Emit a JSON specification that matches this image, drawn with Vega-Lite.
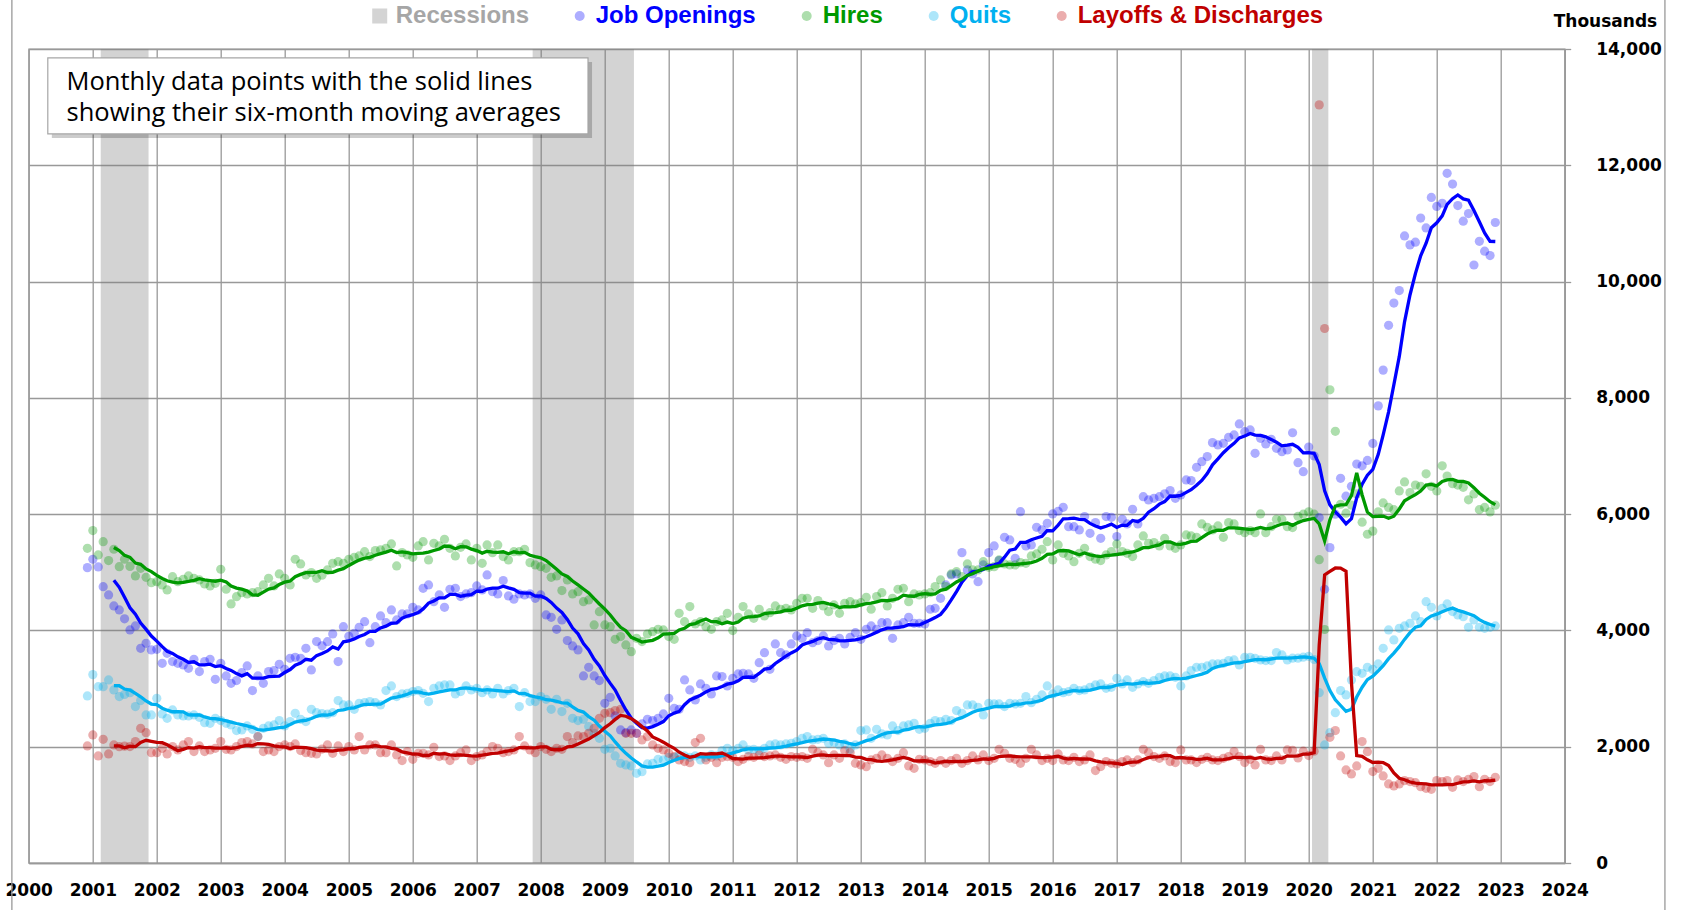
{
"$schema":"https://vega.github.io/schema/vega-lite/v6.json",
"width":1536,"height":814,
"autosize":{"type":"none"},
"padding":{"left":28.7,"top":49,"right":116.3,"bottom":47},
"background":"white",
"data":{"values":[
{"d":"2000-12","o":5080,"h":5413,"q":2873,"l":2013},
{"d":"2001-01","o":5224,"h":5717,"q":3240,"l":2202},{"d":"2001-02","o":5092,"h":5298,"q":3033,"l":1841},{"d":"2001-03","o":4753,"h":5527,"q":3033,"l":2128},{"d":"2001-04","o":4610,"h":5201,"q":3148,"l":1876},{"d":"2001-05","o":4421,"h":5396,"q":2976,"l":2030},{"d":"2001-06","o":4352,"h":5097,"q":2862,"l":2000},{"d":"2001-07","o":4200,"h":5224,"q":2900,"l":2010},{"d":"2001-08","o":4008,"h":5100,"q":2930,"l":2002},{"d":"2001-09","o":4077,"h":4937,"q":2690,"l":2088},{"d":"2001-10","o":3693,"h":5069,"q":2793,"l":2317},{"d":"2001-11","o":3779,"h":4914,"q":2546,"l":2242},{"d":"2001-12","o":3664,"h":4822,"q":2546,"l":1898},
{"d":"2002-01","o":3676,"h":4839,"q":2833,"l":1898},{"d":"2002-02","o":3435,"h":4782,"q":2563,"l":1973},{"d":"2002-03","o":3607,"h":4696,"q":2489,"l":1876},{"d":"2002-04","o":3464,"h":4925,"q":2632,"l":2002},{"d":"2002-05","o":3435,"h":4839,"q":2546,"l":1944},{"d":"2002-06","o":3406,"h":4880,"q":2529,"l":2030},{"d":"2002-07","o":3349,"h":4937,"q":2529,"l":2088},{"d":"2002-08","o":3504,"h":4897,"q":2546,"l":1916},{"d":"2002-09","o":3292,"h":4868,"q":2506,"l":2013},{"d":"2002-10","o":3464,"h":4799,"q":2414,"l":1916},{"d":"2002-11","o":3504,"h":4765,"q":2403,"l":1944},{"d":"2002-12","o":3160,"h":4811,"q":2489,"l":1973},
{"d":"2003-01","o":3435,"h":5052,"q":2449,"l":2088},{"d":"2003-02","o":3217,"h":4708,"q":2403,"l":1956},{"d":"2003-03","o":3091,"h":4455,"q":2374,"l":1944},{"d":"2003-04","o":3137,"h":4581,"q":2277,"l":2002},{"d":"2003-05","o":3274,"h":4650,"q":2288,"l":2071},{"d":"2003-06","o":3389,"h":4627,"q":2357,"l":2088},{"d":"2003-07","o":2965,"h":4650,"q":2300,"l":2048},{"d":"2003-08","o":3217,"h":4667,"q":2174,"l":2174},{"d":"2003-09","o":3091,"h":4782,"q":2317,"l":1916},{"d":"2003-10","o":3292,"h":4897,"q":2357,"l":1944},{"d":"2003-11","o":3309,"h":4765,"q":2374,"l":1916},{"d":"2003-12","o":3418,"h":4971,"q":2449,"l":2002},
{"d":"2004-01","o":3332,"h":4897,"q":2357,"l":2030},{"d":"2004-02","o":3521,"h":4782,"q":2432,"l":2002},{"d":"2004-03","o":3538,"h":5224,"q":2575,"l":2048},{"d":"2004-04","o":3521,"h":5143,"q":2472,"l":1933},{"d":"2004-05","o":3693,"h":4954,"q":2432,"l":1898},{"d":"2004-06","o":3320,"h":4994,"q":2644,"l":1887},{"d":"2004-07","o":3808,"h":4897,"q":2586,"l":1876},{"d":"2004-08","o":3735,"h":4950,"q":2570,"l":1960},{"d":"2004-09","o":3807,"h":5040,"q":2560,"l":2030},{"d":"2004-10","o":3939,"h":5155,"q":2586,"l":1887},{"d":"2004-11","o":3464,"h":5183,"q":2793,"l":2013},{"d":"2004-12","o":4065,"h":5155,"q":2718,"l":1916},
{"d":"2005-01","o":3900,"h":5224,"q":2718,"l":2002},{"d":"2005-02","o":3951,"h":5258,"q":2644,"l":1944},{"d":"2005-03","o":4054,"h":5281,"q":2747,"l":2174},{"d":"2005-04","o":4151,"h":5355,"q":2758,"l":1944},{"d":"2005-05","o":3790,"h":5270,"q":2776,"l":2030},{"d":"2005-06","o":4065,"h":5373,"q":2758,"l":2030},{"d":"2005-07","o":4249,"h":5384,"q":2718,"l":1898},{"d":"2005-08","o":4134,"h":5413,"q":2965,"l":1898},{"d":"2005-09","o":4352,"h":5487,"q":3045,"l":2030},{"d":"2005-10","o":4180,"h":5109,"q":2862,"l":1858},{"d":"2005-11","o":4283,"h":5338,"q":2907,"l":1761},{"d":"2005-12","o":4283,"h":5298,"q":2919,"l":1916},
{"d":"2006-01","o":4398,"h":5258,"q":2948,"l":1784},{"d":"2006-02","o":4352,"h":5453,"q":2965,"l":1887},{"d":"2006-03","o":4725,"h":5527,"q":2919,"l":1887},{"d":"2006-04","o":4782,"h":5212,"q":2776,"l":1858},{"d":"2006-05","o":4495,"h":5499,"q":3005,"l":1990},{"d":"2006-06","o":4610,"h":5453,"q":3045,"l":1830},{"d":"2006-07","o":4398,"h":5568,"q":3062,"l":1841},{"d":"2006-08","o":4708,"h":5413,"q":3062,"l":1761},{"d":"2006-09","o":4725,"h":5281,"q":2907,"l":1841},{"d":"2006-10","o":4582,"h":5430,"q":2948,"l":1898},{"d":"2006-11","o":4627,"h":5487,"q":3045,"l":1944},{"d":"2006-12","o":4650,"h":5212,"q":2976,"l":1761},
{"d":"2007-01","o":4765,"h":5413,"q":3005,"l":1830},{"d":"2007-02","o":4696,"h":5155,"q":2930,"l":1858},{"d":"2007-03","o":4954,"h":5470,"q":2976,"l":1916},{"d":"2007-04","o":4667,"h":5338,"q":2907,"l":2002},{"d":"2007-05","o":4627,"h":5470,"q":3005,"l":1973},{"d":"2007-06","o":4857,"h":5270,"q":2907,"l":1898},{"d":"2007-07","o":4593,"h":5212,"q":2965,"l":1916},{"d":"2007-08","o":4536,"h":5355,"q":3005,"l":1944},{"d":"2007-09","o":4627,"h":5355,"q":2690,"l":2174},{"d":"2007-10","o":4610,"h":5396,"q":2930,"l":2013},{"d":"2007-11","o":4627,"h":5166,"q":2776,"l":1944},{"d":"2007-12","o":4553,"h":5126,"q":2776,"l":1898},
{"d":"2008-01","o":4610,"h":5097,"q":2862,"l":2002},{"d":"2008-02","o":4266,"h":5069,"q":2816,"l":1956},{"d":"2008-03","o":4226,"h":4914,"q":2644,"l":1916},{"d":"2008-04","o":4020,"h":4937,"q":2816,"l":1973},{"d":"2008-05","o":4180,"h":4685,"q":2604,"l":1956},{"d":"2008-06","o":3825,"h":4868,"q":2747,"l":2174},{"d":"2008-07","o":3733,"h":4627,"q":2489,"l":2071},{"d":"2008-08","o":3664,"h":4667,"q":2449,"l":2185},{"d":"2008-09","o":3217,"h":4495,"q":2472,"l":2174},{"d":"2008-10","o":3366,"h":4524,"q":2346,"l":2231},{"d":"2008-11","o":3217,"h":4094,"q":2231,"l":2317},{"d":"2008-12","o":3137,"h":4323,"q":2145,"l":2489},
{"d":"2009-01","o":2747,"h":4094,"q":1956,"l":2575},{"d":"2009-02","o":2850,"h":4065,"q":1973,"l":2586},{"d":"2009-03","o":2529,"h":3848,"q":1841,"l":2621},{"d":"2009-04","o":2288,"h":3894,"q":1715,"l":2644},{"d":"2009-05","o":2242,"h":3750,"q":1686,"l":2231},{"d":"2009-06","o":2288,"h":3635,"q":1669,"l":2231},{"d":"2009-07","o":2231,"h":3865,"q":1543,"l":2231},{"d":"2009-08","o":2391,"h":3808,"q":1571,"l":2116},{"d":"2009-09","o":2472,"h":3939,"q":1703,"l":2174},{"d":"2009-10","o":2449,"h":3979,"q":1715,"l":2030},{"d":"2009-11","o":2489,"h":4020,"q":1784,"l":1973},{"d":"2009-12","o":2563,"h":4008,"q":1772,"l":1944},
{"d":"2010-01","o":2833,"h":3894,"q":1818,"l":1887},{"d":"2010-02","o":2661,"h":3848,"q":1818,"l":1830},{"d":"2010-03","o":2644,"h":4295,"q":1858,"l":1772},{"d":"2010-04","o":3148,"h":4151,"q":1841,"l":1744},{"d":"2010-05","o":2976,"h":4410,"q":1818,"l":1726},{"d":"2010-06","o":2804,"h":4111,"q":1841,"l":2071},{"d":"2010-07","o":3079,"h":4151,"q":1772,"l":2145},{"d":"2010-08","o":3005,"h":4065,"q":1818,"l":1772},{"d":"2010-09","o":2907,"h":4020,"q":1858,"l":1818},{"d":"2010-10","o":3217,"h":4151,"q":1841,"l":1726},{"d":"2010-11","o":3206,"h":4180,"q":1933,"l":1818},{"d":"2010-12","o":3045,"h":4295,"q":1973,"l":1830},
{"d":"2011-01","o":3177,"h":3997,"q":1933,"l":1818},{"d":"2011-02","o":3251,"h":4226,"q":1973,"l":1744},{"d":"2011-03","o":3263,"h":4410,"q":2030,"l":1784},{"d":"2011-04","o":3251,"h":4283,"q":1944,"l":1830},{"d":"2011-05","o":3177,"h":4209,"q":1956,"l":1818},{"d":"2011-06","o":3446,"h":4364,"q":1933,"l":1858},{"d":"2011-07","o":3618,"h":4249,"q":1973,"l":1830},{"d":"2011-08","o":3332,"h":4306,"q":2030,"l":1841},{"d":"2011-09","o":3767,"h":4421,"q":2048,"l":1858},{"d":"2011-10","o":3618,"h":4364,"q":2030,"l":1818},{"d":"2011-11","o":3578,"h":4381,"q":2048,"l":1784},{"d":"2011-12","o":3767,"h":4352,"q":2059,"l":1830},
{"d":"2012-01","o":3905,"h":4467,"q":2088,"l":1818},{"d":"2012-02","o":3865,"h":4553,"q":2145,"l":1830},{"d":"2012-03","o":3962,"h":4553,"q":2174,"l":1801},{"d":"2012-04","o":3790,"h":4381,"q":2116,"l":1956},{"d":"2012-05","o":3825,"h":4513,"q":2128,"l":1898},{"d":"2012-06","o":3905,"h":4421,"q":2145,"l":1858},{"d":"2012-07","o":3733,"h":4324,"q":2059,"l":1726},{"d":"2012-08","o":3825,"h":4438,"q":2071,"l":1858},{"d":"2012-09","o":3865,"h":4295,"q":2030,"l":1801},{"d":"2012-10","o":3768,"h":4467,"q":2048,"l":1933},{"d":"2012-11","o":3882,"h":4495,"q":1956,"l":1898},{"d":"2012-12","o":3962,"h":4455,"q":2030,"l":1715},
{"d":"2013-01","o":3848,"h":4478,"q":2277,"l":1686},{"d":"2013-02","o":4020,"h":4570,"q":2288,"l":1657},{"d":"2013-03","o":4077,"h":4364,"q":2145,"l":1772},{"d":"2013-04","o":4020,"h":4582,"q":2300,"l":1801},{"d":"2013-05","o":4134,"h":4650,"q":2220,"l":1858},{"d":"2013-06","o":4134,"h":4421,"q":2202,"l":1801},{"d":"2013-07","o":3865,"h":4553,"q":2357,"l":1744},{"d":"2013-08","o":4094,"h":4708,"q":2277,"l":1801},{"d":"2013-09","o":4134,"h":4725,"q":2357,"l":1898},{"d":"2013-10","o":4226,"h":4495,"q":2374,"l":1669},{"d":"2013-11","o":4123,"h":4627,"q":2403,"l":1629},{"d":"2013-12","o":4123,"h":4610,"q":2300,"l":1784},
{"d":"2014-01","o":4111,"h":4627,"q":2317,"l":1772},{"d":"2014-02","o":4364,"h":4650,"q":2403,"l":1744},{"d":"2014-03","o":4381,"h":4754,"q":2449,"l":1715},{"d":"2014-04","o":4553,"h":4868,"q":2432,"l":1761},{"d":"2014-05","o":4782,"h":4754,"q":2472,"l":1715},{"d":"2014-06","o":4954,"h":4971,"q":2449,"l":1761},{"d":"2014-07","o":4971,"h":5011,"q":2621,"l":1801},{"d":"2014-08","o":5338,"h":4925,"q":2575,"l":1715},{"d":"2014-09","o":5040,"h":5143,"q":2718,"l":1761},{"d":"2014-10","o":4971,"h":5040,"q":2718,"l":1841},{"d":"2014-11","o":4839,"h":5040,"q":2678,"l":1772},{"d":"2014-12","o":5126,"h":5183,"q":2546,"l":1858},
{"d":"2015-01","o":5338,"h":5086,"q":2747,"l":1761},{"d":"2015-02","o":5453,"h":5097,"q":2735,"l":1801},{"d":"2015-03","o":5201,"h":5212,"q":2735,"l":1956},{"d":"2015-04","o":5602,"h":5143,"q":2690,"l":1887},{"d":"2015-05","o":5556,"h":5126,"q":2747,"l":1801},{"d":"2015-06","o":5241,"h":5126,"q":2735,"l":1784},{"d":"2015-07","o":6043,"h":5166,"q":2747,"l":1715},{"d":"2015-08","o":5453,"h":5155,"q":2862,"l":1801},{"d":"2015-09","o":5470,"h":5281,"q":2758,"l":1956},{"d":"2015-10","o":5774,"h":5316,"q":2816,"l":1858},{"d":"2015-11","o":5728,"h":5396,"q":2890,"l":1761},{"d":"2015-12","o":5843,"h":5527,"q":3045,"l":1801},
{"d":"2016-01","o":6003,"h":5212,"q":2907,"l":1761},{"d":"2016-02","o":6050,"h":5470,"q":2976,"l":1876},{"d":"2016-03","o":6118,"h":5327,"q":2930,"l":1772},{"d":"2016-04","o":5785,"h":5281,"q":2948,"l":1761},{"d":"2016-05","o":5785,"h":5183,"q":3005,"l":1818},{"d":"2016-06","o":5728,"h":5327,"q":2965,"l":1744},{"d":"2016-07","o":5958,"h":5413,"q":2976,"l":1772},{"d":"2016-08","o":5671,"h":5270,"q":3022,"l":1858},{"d":"2016-09","o":5854,"h":5224,"q":3062,"l":1589},{"d":"2016-10","o":5585,"h":5201,"q":3079,"l":1658},{"d":"2016-11","o":5958,"h":5298,"q":3005,"l":1744},{"d":"2016-12","o":5946,"h":5356,"q":3022,"l":1715},
{"d":"2017-01","o":5614,"h":5487,"q":3177,"l":1704},{"d":"2017-02","o":5912,"h":5356,"q":3079,"l":1744},{"d":"2017-03","o":5831,"h":5327,"q":3148,"l":1772},{"d":"2017-04","o":6084,"h":5270,"q":3022,"l":1727},{"d":"2017-05","o":5831,"h":5470,"q":3079,"l":1772},{"d":"2017-06","o":6301,"h":5625,"q":3119,"l":1956},{"d":"2017-07","o":6244,"h":5499,"q":3091,"l":1898},{"d":"2017-08","o":6273,"h":5510,"q":3137,"l":1830},{"d":"2017-09","o":6301,"h":5453,"q":3194,"l":1801},{"d":"2017-10","o":6350,"h":5585,"q":3217,"l":1841},{"d":"2017-11","o":6405,"h":5453,"q":3217,"l":1744},{"d":"2017-12","o":6273,"h":5413,"q":3194,"l":1727},
{"d":"2018-01","o":6330,"h":5470,"q":3045,"l":1944},{"d":"2018-02","o":6588,"h":5642,"q":3217,"l":1772},{"d":"2018-03","o":6577,"h":5625,"q":3309,"l":1772},{"d":"2018-04","o":6806,"h":5602,"q":3366,"l":1727},{"d":"2018-05","o":6903,"h":5831,"q":3366,"l":1784},{"d":"2018-06","o":6990,"h":5774,"q":3389,"l":1818},{"d":"2018-07","o":7230,"h":5728,"q":3424,"l":1772},{"d":"2018-08","o":7190,"h":5797,"q":3424,"l":1761},{"d":"2018-09","o":7219,"h":5602,"q":3435,"l":1801},{"d":"2018-10","o":7322,"h":5854,"q":3481,"l":1830},{"d":"2018-11","o":7362,"h":5831,"q":3492,"l":1916},{"d":"2018-12","o":7551,"h":5717,"q":3407,"l":1830},
{"d":"2019-01","o":7419,"h":5682,"q":3538,"l":1727},{"d":"2019-02","o":7448,"h":5717,"q":3538,"l":1784},{"d":"2019-03","o":7047,"h":5682,"q":3521,"l":1686},{"d":"2019-04","o":7305,"h":6003,"q":3492,"l":1956},{"d":"2019-05","o":7207,"h":5682,"q":3481,"l":1772},{"d":"2019-06","o":7287,"h":5785,"q":3481,"l":1761},{"d":"2019-07","o":7133,"h":5912,"q":3619,"l":1841},{"d":"2019-08","o":7075,"h":5912,"q":3578,"l":1772},{"d":"2019-09","o":7104,"h":5785,"q":3492,"l":1944},{"d":"2019-10","o":7400,"h":5770,"q":3523,"l":1939},{"d":"2019-11","o":6885,"h":5962,"q":3523,"l":1808},{"d":"2019-12","o":6731,"h":6000,"q":3539,"l":1923},
{"d":"2020-01","o":7154,"h":6039,"q":3554,"l":1847},{"d":"2020-02","o":7000,"h":6000,"q":3500,"l":1923},{"d":"2020-03","o":5939,"h":5216,"q":2930,"l":13039},{"d":"2020-04","o":4708,"h":4016,"q":2030,"l":9193},{"d":"2020-05","o":5424,"h":8139,"q":2242,"l":2162},{"d":"2020-06","o":6000,"h":7424,"q":2586,"l":2277},{"d":"2020-07","o":6616,"h":6170,"q":2965,"l":1841},{"d":"2020-08","o":6308,"h":6016,"q":2890,"l":1600},{"d":"2020-09","o":6478,"h":6155,"q":3148,"l":1531},{"d":"2020-10","o":6862,"h":6347,"q":3291,"l":1669},{"d":"2020-11","o":6831,"h":5862,"q":3263,"l":2088},{"d":"2020-12","o":6924,"h":5654,"q":3366,"l":1915},
{"d":"2021-01","o":7216,"h":5708,"q":3330,"l":1572},{"d":"2021-02","o":7862,"h":6039,"q":3423,"l":1629},{"d":"2021-03","o":8477,"h":6193,"q":3693,"l":1497},{"d":"2021-04","o":9247,"h":6116,"q":4008,"l":1360},{"d":"2021-05","o":9631,"h":6077,"q":3836,"l":1325},{"d":"2021-06","o":9846,"h":6400,"q":4037,"l":1360},{"d":"2021-07","o":10785,"h":6554,"q":4077,"l":1417},{"d":"2021-08","o":10631,"h":6370,"q":4123,"l":1400},{"d":"2021-09","o":10677,"h":6500,"q":4249,"l":1382},{"d":"2021-10","o":11093,"h":6478,"q":4151,"l":1313},{"d":"2021-11","o":10923,"h":6693,"q":4495,"l":1285},{"d":"2021-12","o":11447,"h":6478,"q":4398,"l":1268},
{"d":"2022-01","o":11293,"h":6400,"q":4249,"l":1417},{"d":"2022-02","o":11347,"h":6831,"q":4381,"l":1400},{"d":"2022-03","o":11862,"h":6654,"q":4455,"l":1417},{"d":"2022-04","o":11677,"h":6524,"q":4324,"l":1302},{"d":"2022-05","o":11308,"h":6500,"q":4266,"l":1428},{"d":"2022-06","o":11039,"h":6462,"q":4237,"l":1400},{"d":"2022-07","o":11170,"h":6247,"q":4054,"l":1440},{"d":"2022-08","o":10285,"h":6347,"q":4180,"l":1486},{"d":"2022-09","o":10693,"h":6077,"q":4054,"l":1313},{"d":"2022-10","o":10523,"h":6116,"q":4037,"l":1440},{"d":"2022-11","o":10447,"h":6039,"q":4054,"l":1400},{"d":"2022-12","o":11016,"h":6155,"q":4077,"l":1474}
]},
"layer":[
{"data":{"values":[{"s":"2001-02-15","e":"2001-11-15"},{"s":"2007-11-16","e":"2009-06-16"},{"s":"2020-01-20","e":"2020-04-22"}]},
 "mark":{"type":"rect","fill":"#787878","opacity":0.326},
 "encoding":{
  "x":{"field":"s","type":"temporal","title":null,
   "scale":{"type":"utc","domain":[{"year":2000,"month":1,"date":1,"utc":true},{"year":2024,"month":1,"date":1,"utc":true}]},
   "axis":{"orient":"bottom","format":"%Y","formatType":"utc","ticks":false,"labelPadding":19,"labelFlush":false,"labelOverlap":false,"labelBound":false,"grid":true,
    "values":[{"year":2000,"utc":true},{"year":2001,"utc":true},{"year":2002,"utc":true},{"year":2003,"utc":true},{"year":2004,"utc":true},{"year":2005,"utc":true},{"year":2006,"utc":true},{"year":2007,"utc":true},{"year":2008,"utc":true},{"year":2009,"utc":true},{"year":2010,"utc":true},{"year":2011,"utc":true},{"year":2012,"utc":true},{"year":2013,"utc":true},{"year":2014,"utc":true},{"year":2015,"utc":true},{"year":2016,"utc":true},{"year":2017,"utc":true},{"year":2018,"utc":true},{"year":2019,"utc":true},{"year":2020,"utc":true},{"year":2021,"utc":true},{"year":2022,"utc":true},{"year":2023,"utc":true},{"year":2024,"utc":true}]}},
  "x2":{"field":"e"}}},
{"transform":[{"fold":["o","h","q","l"],"as":["k","v"]}],
 "mark":{"type":"circle","size":85,"opacity":0.32},
 "encoding":{
  "x":{"field":"d","type":"temporal","title":null,"scale":{"type":"utc"}},
  "y":{"field":"v","type":"quantitative","title":"Thousands",
   "scale":{"domain":[0,14000],"nice":false,"zero":true},
   "axis":{"orient":"right","values":[0,2000,4000,6000,8000,10000,12000,14000],"format":",d","labelAlign":"left","labelBaseline":"middle","labelPadding":25,"tickSize":6,"labelFlush":false,"labelOverlap":false,"grid":true,
    "titleAngle":0,"titleX":92,"titleY":-23,"titleAlign":"right","titleBaseline":"alphabetic","titleFont":"DejaVu Sans","titleFontSize":17,"titleFontWeight":"bold","titleColor":"#000"}},
  "color":{"field":"k","type":"nominal",
   "scale":{"domain":["r","o","h","q","l"],"range":["#787878","#0000FF","#009900","#00B0F0","#C00000"]},
   "legend":{"orient":"none","legendX":339,"legendY":-45,"direction":"horizontal","title":null,"padding":0,
    "labelExpr":"datum.value == 'r' ? 'Recessions' : datum.value == 'o' ? 'Job Openings' : datum.value == 'h' ? 'Hires' : datum.value == 'q' ? 'Quits' : 'Layoffs & Discharges'",
    "labelFont":"Liberation Sans","labelFontSize":24,"labelFontWeight":"bold","labelLimit":500,"labelOffset":4,"columnPadding":38,
    "symbolSize":{"expr":"datum.value === 'r' ? 225 : 100"},
    "symbolType":{"expr":"datum.value === 'r' ? 'square' : 'circle'"},
    "symbolStrokeWidth":0,
    "labelColor":{"expr":"datum.value === 'r' ? '#A6A6A6' : datum.value === 'o' ? '#0000FF' : datum.value === 'h' ? '#009900' : datum.value === 'q' ? '#00B0F0' : '#C00000'"}}}}},
{"transform":[{"fold":["o","h","q","l"],"as":["k","v"]},
  {"window":[{"op":"mean","field":"v","as":"ma"},{"op":"count","as":"n"}],"frame":[-5,0],"groupby":["k"],"sort":[{"field":"d","order":"ascending"}]},
  {"filter":"datum.n == 6"}],
 "mark":{"type":"line","strokeWidth":3.3},
 "encoding":{
  "x":{"field":"d","type":"temporal","title":null,"scale":{"type":"utc"}},
  "y":{"field":"ma","type":"quantitative","title":"Thousands"},
  "color":{"field":"k","type":"nominal","legend":null}}},
{"data":{"values":[{}]},
 "mark":{"type":"rect","fill":"#000","opacity":0.2},
 "encoding":{
  "x":{"datum":{"year":2000,"month":5,"date":12,"utc":true},"type":"temporal","title":null,"scale":{"type":"utc"}},
  "x2":{"datum":{"year":2008,"month":10,"date":20,"utc":true}},
  "y":{"datum":12470,"type":"quantitative","title":"Thousands"},
  "y2":{"datum":13777}}},
{"data":{"values":[{}]},
 "mark":{"type":"rect","fill":"#ffffff","stroke":"#a6a6a6","strokeWidth":1.2},
 "encoding":{
  "x":{"datum":{"year":2000,"month":4,"date":19,"utc":true},"type":"temporal","title":null,"scale":{"type":"utc"}},
  "x2":{"datum":{"year":2008,"month":9,"date":27,"utc":true}},
  "y":{"datum":12539,"type":"quantitative","title":"Thousands"},
  "y2":{"datum":13846}}},
{"data":{"values":[{}]},
 "mark":{"type":"text","text":"Monthly data points with the solid lines","align":"left","baseline":"alphabetic","font":"Open Sans","fontSize":25.5,"color":"#000"},
 "encoding":{
  "x":{"datum":{"year":2000,"month":8,"date":4,"utc":true},"type":"temporal","title":null,"scale":{"type":"utc"}},
  "y":{"datum":13300,"type":"quantitative","title":"Thousands"}}},
{"data":{"values":[{}]},
 "mark":{"type":"text","text":"showing their six-month moving averages","align":"left","baseline":"alphabetic","font":"Open Sans","fontSize":25.5,"color":"#000"},
 "encoding":{
  "x":{"datum":{"year":2000,"month":8,"date":4,"utc":true},"type":"temporal","title":null,"scale":{"type":"utc"}},
  "y":{"datum":12762,"type":"quantitative","title":"Thousands"}}},
{"data":{"values":[{}]},
 "mark":{"type":"rule","color":"#999","strokeWidth":1.3},
 "encoding":{
  "x":{"datum":{"year":1999,"month":9,"date":27,"utc":true},"type":"temporal","title":null,"scale":{"type":"utc"}},
  "y":{"datum":-808,"type":"quantitative","title":"Thousands"},
  "y2":{"datum":14844}}},
{"data":{"values":[{}]},
 "mark":{"type":"rule","color":"#999","strokeWidth":1.3},
 "encoding":{
  "x":{"datum":{"year":2025,"month":7,"date":26,"utc":true},"type":"temporal","title":null,"scale":{"type":"utc"}},
  "y":{"datum":-808,"type":"quantitative","title":"Thousands"},
  "y2":{"datum":14844}}}
],
"config":{
 "view":{"stroke":"#999","strokeWidth":1.3},
 "axis":{"gridColor":"#999","gridWidth":1.3,"domainColor":"#999","domainWidth":1.3,"tickColor":"#999","tickWidth":1.3,"labelColor":"#000","labelFont":"DejaVu Sans","labelFontSize":17,"labelFontWeight":"bold"}
}
}
